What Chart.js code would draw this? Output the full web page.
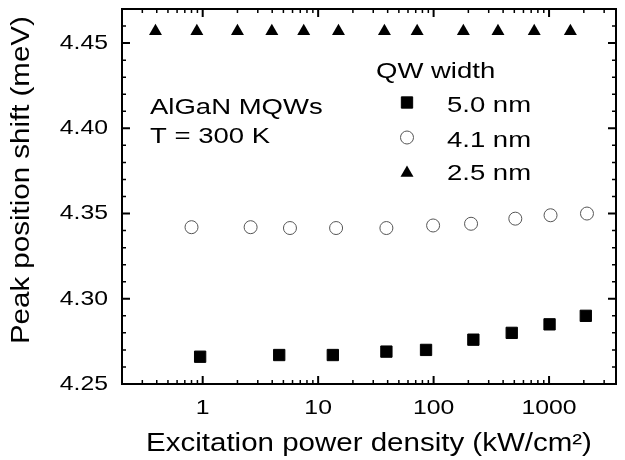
<!DOCTYPE html>
<html>
<head>
<meta charset="utf-8">
<title>Peak position shift vs excitation power density</title>
<script src="https://cdn.jsdelivr.net/npm/chart.js@4.4.1/dist/chart.umd.min.js"></script>
<style>
  html, body { margin: 0; padding: 0; background: #fff; }
  canvas { display: block; }
</style>
</head>
<body>
<canvas id="shiftChart" width="625" height="460"></canvas>
<script>
// Excitation power density (kW/cm2) and peak position for each QW width
var power50 = [0.95, 4.6, 13.4, 39, 86, 221, 475, 1010, 2080];
var shift50 = [4.266, 4.267, 4.267, 4.269, 4.270, 4.276, 4.280, 4.285, 4.290];

var power41 = [0.8, 2.6, 5.7, 14.3, 39, 99, 211, 510, 1030, 2130];
var shift41 = [4.342, 4.342, 4.3415, 4.3415, 4.3415, 4.343, 4.344, 4.347, 4.349, 4.350];

var power25 = [0.39, 0.89, 2.0, 3.97, 7.5, 15, 37.5, 72, 181, 361, 744, 1530];
var shift25 = [4.457, 4.457, 4.457, 4.457, 4.457, 4.457, 4.457, 4.457, 4.457, 4.457, 4.457, 4.457];

var seriesLabels = ['5.0 nm', '4.1 nm', '2.5 nm'];
var xTickValues = [1, 10, 100, 1000];
var yTickValues = [4.25, 4.30, 4.35, 4.40, 4.45];
var notes = ['AlGaN MQWs', 'T = 300 K'];
var legendTitle = 'QW width';

var FONT = "'Liberation Sans', Arial, sans-serif";
Chart.defaults.font.family = FONT;
Chart.defaults.color = '#000';

function toPoints(xs, ys) {
  return xs.map(function (x, i) { return { x: x, y: ys[i] }; });
}

// the text in the original is drawn a bit wider than Arial, stretch it
var stretchText = {
  id: 'stretchText',
  beforeInit: function (chart) {
    var ctx = chart.ctx;
    var fill = ctx.fillText.bind(ctx);
    ctx.rawFillText = fill;
    ctx.textStretch = 1.18;
    ctx.fillText = function (text, x, y) {
      ctx.save();
      ctx.translate(x, y);
      ctx.scale(ctx.textStretch, 1);
      fill(text, 0, 0);
      ctx.restore();
    };
  }
};

// box around the plot with inward major / minor ticks on all four sides
var frame = {
  id: 'frame',
  afterDraw: function (chart) {
    var ctx = chart.ctx;
    var a = chart.chartArea;
    var xs = chart.scales.x, ys = chart.scales.y;
    var majorLen = 8, minorLen = 4;

    ctx.save();
    ctx.strokeStyle = '#000';
    ctx.lineWidth = 2;
    ctx.strokeRect(a.left, a.top, a.right - a.left, a.bottom - a.top);

    function vTick(px, len, w) {
      ctx.lineWidth = w;
      ctx.beginPath();
      ctx.moveTo(px, a.bottom); ctx.lineTo(px, a.bottom - len);
      ctx.moveTo(px, a.top); ctx.lineTo(px, a.top + len);
      ctx.stroke();
    }
    function hTick(py, len, w) {
      ctx.lineWidth = w;
      ctx.beginPath();
      ctx.moveTo(a.left, py); ctx.lineTo(a.left + len, py);
      ctx.moveTo(a.right, py); ctx.lineTo(a.right - len, py);
      ctx.stroke();
    }

    // x: decades are major, 2..9 of each decade minor
    [0.1, 1, 10, 100, 1000].forEach(function (d) {
      for (var k = 2; k <= 9; k++) {
        var v = k * d;
        if (v > xs.min && v < xs.max) vTick(xs.getPixelForValue(v), minorLen, 1.5);
      }
    });
    xTickValues.forEach(function (v) { vTick(xs.getPixelForValue(v), majorLen, 2); });

    // y: every 0.01 minor, every 0.05 major
    for (var i = 1; i < 22; i++) {
      var v = 4.25 + i * 0.01;
      if (i % 5 !== 0) hTick(ys.getPixelForValue(v), minorLen, 1.5);
    }
    yTickValues.forEach(function (v) { hTick(ys.getPixelForValue(v), majorLen, 2); });
    ctx.restore();
  }
};

// sample notes and the legend inside the plot
var notesBox = {
  id: 'notesBox',
  afterDraw: function (chart) {
    var ctx = chart.ctx;
    ctx.save();
    ctx.textStretch = 1.25;
    ctx.font = '22px ' + FONT;
    ctx.fillStyle = '#000';
    ctx.textAlign = 'left';
    ctx.textBaseline = 'alphabetic';

    ctx.fillText(notes[0], 150, 114);
    ctx.fillText(notes[1], 150, 143);
    ctx.fillText(legendTitle, 376, 78);

    var rowY = [102.5, 137.5, 173];
    var textY = [112, 146.5, 180];
    chart.data.datasets.forEach(function (ds, i) {
      ctx.fillStyle = ds.backgroundColor;
      ctx.strokeStyle = ds.borderColor;
      ctx.lineWidth = ds.borderWidth;
      Chart.helpers.drawPoint(ctx, {
        pointStyle: ds.pointStyle,
        radius: ds.pointRadius,
        rotation: 0,
        borderWidth: ds.borderWidth
      }, 407, rowY[i]);
      ctx.fillStyle = '#000';
      ctx.fillText(ds.label, 447, textY[i]);
    });
    ctx.textStretch = 1.18;
    ctx.restore();
  }
};

var chart = new Chart(document.getElementById('shiftChart'), {
  type: 'scatter',
  data: {
    datasets: [
      {
        label: seriesLabels[0],
        data: toPoints(power50, shift50),
        pointStyle: 'rect',
        pointRadius: 8,
        backgroundColor: '#000',
        borderColor: '#000',
        borderWidth: 1
      },
      {
        label: seriesLabels[1],
        data: toPoints(power41, shift41),
        pointStyle: 'circle',
        pointRadius: 6.5,
        backgroundColor: '#fff',
        borderColor: '#555',
        borderWidth: 1
      },
      {
        label: seriesLabels[2],
        data: toPoints(power25, shift25),
        pointStyle: 'triangle',
        pointRadius: 7.5,
        backgroundColor: '#000',
        borderColor: '#000',
        borderWidth: 0
      }
    ]
  },
  options: {
    responsive: false,
    animation: false,
    events: [],
    layout: { padding: { top: 6, right: 2, left: 0, bottom: 0 } },
    plugins: {
      legend: { display: false },
      tooltip: { enabled: false }
    },
    scales: {
      x: {
        type: 'logarithmic',
        min: 0.2,
        max: 3800,
        grid: { display: false, drawTicks: false },
        border: { display: false },
        ticks: {
          font: { size: 21 },
          padding: 12,
          autoSkip: false,
          maxRotation: 0,
          callback: function (v) { return String(v); }
        },
        title: {
          display: true,
          text: 'Excitation power density (kW/cm²)',
          font: { size: 25 },
          padding: { top: 0, bottom: 1 }
        },
        afterBuildTicks: function (scale) {
          scale.ticks = xTickValues.map(function (v) { return { value: v }; });
        },
        afterFit: function (scale) {
          scale.height = 76;
          scale.paddingLeft = 0;
          scale.paddingRight = 0;
        }
      },
      y: {
        min: 4.25,
        max: 4.47,
        grid: { display: false, drawTicks: false },
        border: { display: false },
        ticks: {
          font: { size: 21 },
          padding: 14,
          autoSkip: false,
          callback: function (v) { return Number(v).toFixed(2); }
        },
        title: {
          display: true,
          // leading spaces push the title up a little, as in the original
          text: '    Peak position shift (meV)',
          font: { size: 25 },
          padding: { top: 7, bottom: 0 }
        },
        afterBuildTicks: function (scale) {
          scale.ticks = yTickValues.map(function (v) { return { value: v }; });
        },
        afterFit: function (scale) {
          scale.width = 122;
          scale.paddingTop = 0;
          scale.paddingBottom = 0;
        }
      }
    }
  },
  plugins: [stretchText, frame, notesBox]
});
</script>
</body>
</html>
